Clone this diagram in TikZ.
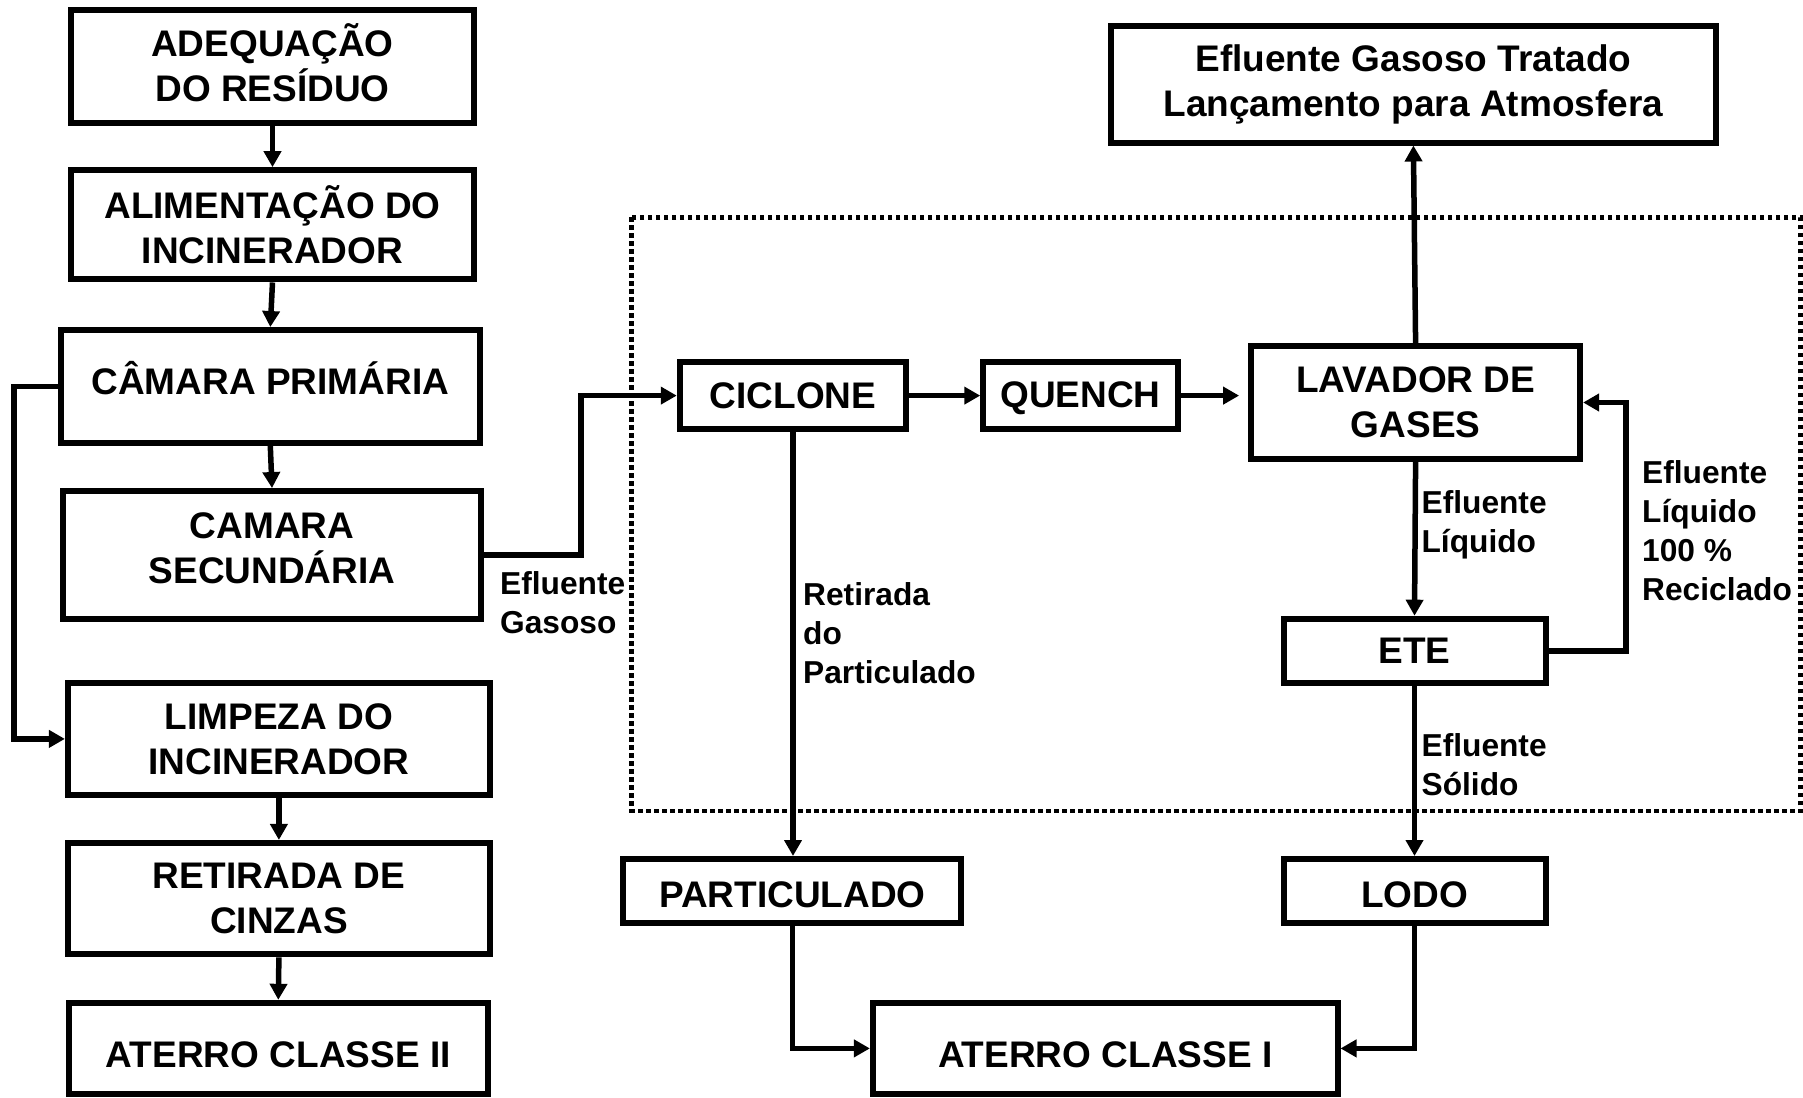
\documentclass[tikz,border=0pt]{standalone}
\usepackage{fontspec}
\setmainfont{Liberation Sans}
\usetikzlibrary{arrows.meta}
\tikzset{
  box/.style={draw, line width=6pt, align=center, inner sep=0pt,
    font=\bfseries\fontsize{37}{45}\selectfont},
  tx/.style={align=center, inner sep=0pt,
    font=\bfseries\fontsize{37}{45}\selectfont},
  lbl/.style={anchor=west, align=left, inner sep=0pt,
    font=\bfseries\fontsize{31.7}{39}\selectfont},
  arr/.style={line width=5.5pt, -{Triangle[width=17pt,length=16pt]}},
  frame/.style={line width=4.5pt, dash pattern=on 4.5pt off 3.5pt}
}
\begin{document}
\begin{tikzpicture}[x=1pt,y=-1pt]
\useasboundingbox (0,0) rectangle (1803,1097);
% left column
\node[box, minimum width=402.5pt, minimum height=112.7pt,
  label={[tx, yshift=3.5pt]center:{ADEQUAÇÃO\\DO RESÍDUO}}] (adeq) at (272.5,66.7) {};
\node[box, minimum width=402.5pt, minimum height=109.3pt] (alim) at (272.5,224.8) {ALIMENTAÇÃO DO\\INCINERADOR};
\node[box, minimum width=418.6pt, minimum height=112.7pt,
  label={[tx, yshift=8pt]center:{CÂMARA PRIMÁRIA}}] (cprim) at (270.3,386.4) {};
\node[box, minimum width=417.4pt, minimum height=127.7pt,
  label={[tx, yshift=7pt]center:{CAMARA\\SECUNDÁRIA}}] (csec) at (272,554.9) {};
\node[box, minimum width=422pt, minimum height=111.5pt] (limp) at (278.9,738.9) {LIMPEZA DO\\INCINERADOR};
\node[box, minimum width=422pt, minimum height=111.5pt] (retc) at (278.9,898.7) {RETIRADA DE\\CINZAS};
\node[box, minimum width=418.6pt, minimum height=91.2pt,
  label={[tx, yshift=-6pt]center:{ATERRO CLASSE II}}] (at2) at (278.3,1048.4) {};
% right part
\node[box, minimum width=226.5pt, minimum height=66.7pt] (cic) at (793,395.6) {CICLONE};
\node[box, minimum width=194.3pt, minimum height=66.7pt,
  label={[tx, yshift=-3pt]center:{QUENCH}}] (que) at (1080.4,395.6) {};
\node[box, minimum width=329pt, minimum height=112.7pt] (lav) at (1415.6,402.5) {LAVADOR DE\\GASES};
\node[box, minimum width=605pt, minimum height=116pt] (egt) at (1413.4,84.5) {Efluente Gasoso Tratado\\Lançamento para Atmosfera};
\node[box, minimum width=262pt, minimum height=64.4pt] (ete) at (1414.5,650.9) {ETE};
\node[box, minimum width=262pt, minimum height=64.4pt,
  label={[tx, yshift=-3.5pt]center:{LODO}}] (lodo) at (1414.5,891.2) {};
\node[box, minimum width=338pt, minimum height=64.4pt,
  label={[tx, yshift=-3.5pt]center:{PARTICULADO}}] (part) at (792.4,891.2) {};
\node[box, minimum width=464.6pt, minimum height=91.2pt,
  label={[tx, yshift=-6pt]center:{ATERRO CLASSE I}}] (at1) at (1105.2,1048.4) {};
% dotted frame
\draw[frame] (631.4,217.4) rectangle (1800.5,810.8);
% coordinates for bends
\coordinate (lx) at (14,0);
\coordinate (gx) at (580.8,0);
\coordinate (rx) at (1626.1,0);
% left column arrows
\draw[arr] (adeq.south) -- (alim.north);
\draw[arr] (alim.south) -- (cprim.north);
\draw[arr] (cprim.south) -- (csec.north);
\draw[arr] (limp.south) -- (retc.north);
\draw[arr] (retc.south) -- (at2.north);
\draw[arr] (cprim.west) -- (cprim.west -| lx) |- (limp.west);
% gas path
\draw[arr] (csec.east) -- (csec.east -| gx) |- (cic.west);
\draw[arr] (cic.east) -- (que.west);
\draw[arr, shorten >=9pt] (que.east) -- (que.east -| lav.west);
\draw[arr] (lav.north) -- (egt.south);
\draw[arr] (lav.south) -- (ete.north);
\draw[arr] (ete.east) -- (ete.east -| rx) |- (lav.east);
\draw[arr] (ete.south) -- (lodo.north);
\draw[arr] (cic.south) -- (cic.south |- part.north);
\draw[arr] (part.south) |- (at1.west);
\draw[arr] (lodo.south) |- (at1.east);
% labels
\node[lbl] (lgas) at (500,602.5) {Efluente\\Gasoso};
\node[lbl] (lret) at (803,633) {Retirada\\do\\Particulado};
\node[lbl] (lliq) at (1421.4,525) {Efluente\\Líquido};
\node[lbl] (lsol) at (1421.4,764.5) {Efluente\\Sólido};
\node[lbl] (lrec) at (1642,531) {Efluente\\Líquido\\100 \%\\Reciclado};
\end{tikzpicture}
\end{document}
